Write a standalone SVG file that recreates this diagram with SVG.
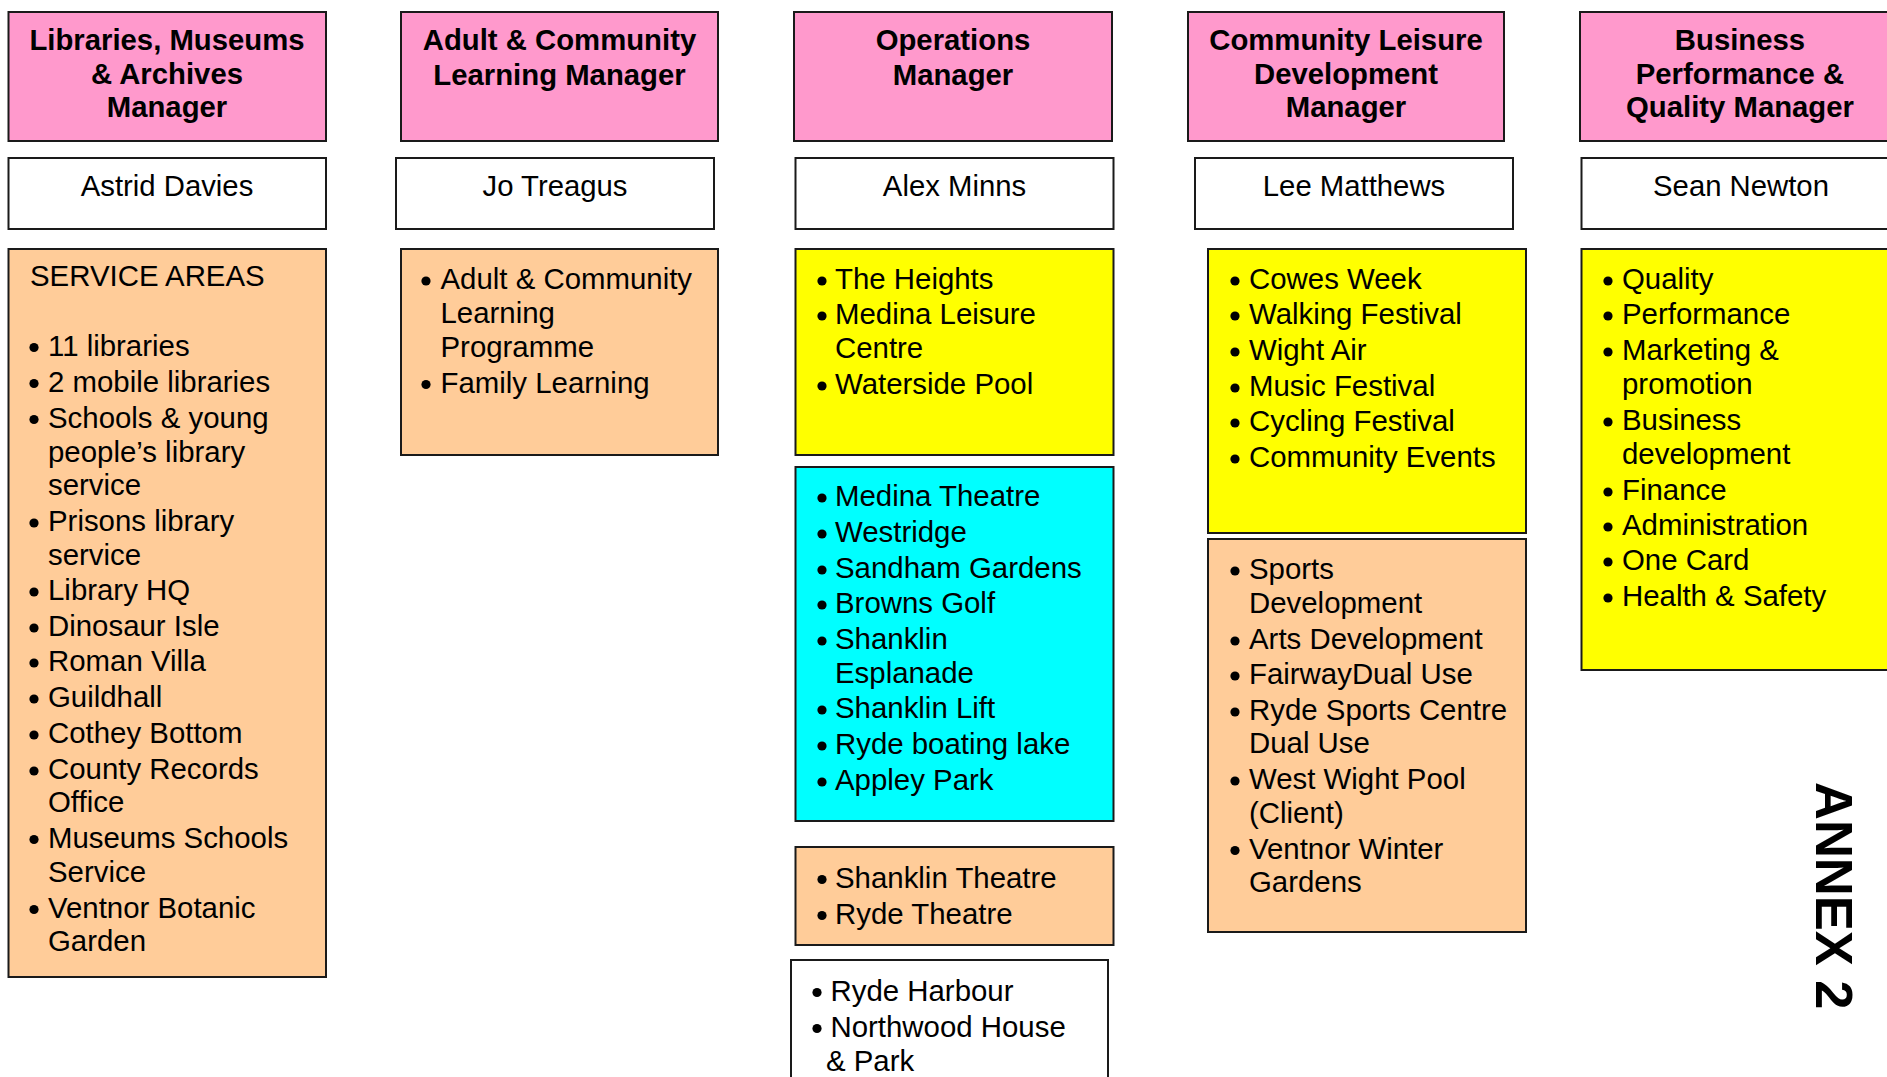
<svg xmlns="http://www.w3.org/2000/svg" width="1887" height="1077" viewBox="0 0 1887 1077">
<defs><circle id="dot" r="4.6" fill="#000"/></defs>
<style>
rect{stroke:#1a1a1a;stroke-width:2}
.pink{fill:#ff99cc}
.white{fill:#ffffff}
.orange{fill:#ffcc99}
.yellow{fill:#ffff00}
.cyan{fill:#00ffff}
text{font-family:"Liberation Sans",Arial,sans-serif;fill:#000}
.h{font-size:29.3px;font-weight:bold;text-anchor:middle}
.n{font-size:29.3px;text-anchor:middle}
.b{font-size:29.4px}
.annex{font-size:52.5px;font-weight:bold}
</style>
<rect width="1887" height="1077" fill="#ffffff" style="stroke:none"/>

<g id="col1">
<g id="lib-manager"><rect class="pink" x="8.5" y="12" width="317.5" height="129"/>
<text class="h" x="167" y="50">Libraries, Museums</text>
<text class="h" x="167" y="83.5">&amp; Archives</text>
<text class="h" x="167" y="117">Manager</text></g>
<g id="lib-name"><rect class="white" x="8.5" y="158" width="317.5" height="71"/>
<text class="n" x="167" y="195.5">Astrid Davies</text></g>
<g id="lib-areas"><rect class="orange" x="8.5" y="249" width="317.5" height="728"/>
<text class="b" x="30" y="285.5">SERVICE AREAS</text>
<use href="#dot" x="34" y="347.5"/><text class="b" x="48" y="355.5">11 libraries</text>
<use href="#dot" x="34" y="383.5"/><text class="b" x="48" y="391.5">2 mobile libraries</text>
<use href="#dot" x="34" y="419.5"/><text class="b" x="48" y="427.5">Schools &amp; young</text>
<text class="b" x="48" y="461.5">people’s library</text>
<text class="b" x="48" y="495">service</text>
<use href="#dot" x="34" y="523"/><text class="b" x="48" y="531">Prisons library</text>
<text class="b" x="48" y="565">service</text>
<use href="#dot" x="34" y="592"/><text class="b" x="48" y="600">Library HQ</text>
<use href="#dot" x="34" y="628"/><text class="b" x="48" y="636">Dinosaur Isle</text>
<use href="#dot" x="34" y="663"/><text class="b" x="48" y="671">Roman Villa</text>
<use href="#dot" x="34" y="699"/><text class="b" x="48" y="707">Guildhall</text>
<use href="#dot" x="34" y="735"/><text class="b" x="48" y="743">Cothey Bottom</text>
<use href="#dot" x="34" y="771"/><text class="b" x="48" y="779">County Records</text>
<text class="b" x="48" y="811.5">Office</text>
<use href="#dot" x="34" y="839.5"/><text class="b" x="48" y="847.5">Museums Schools</text>
<text class="b" x="48" y="881.5">Service</text>
<use href="#dot" x="34" y="909.5"/><text class="b" x="48" y="917.5">Ventnor Botanic</text>
<text class="b" x="48" y="951">Garden</text></g>
</g>

<g id="col2">
<g id="acl-manager"><rect class="pink" x="401" y="12" width="317" height="129"/>
<text class="h" x="559.5" y="50">Adult &amp; Community</text>
<text class="h" x="559.5" y="84.5">Learning Manager</text></g>
<g id="acl-name"><rect class="white" x="396" y="158" width="318" height="71"/>
<text class="n" x="555" y="195.5">Jo Treagus</text></g>
<g id="acl-areas"><rect class="orange" x="401" y="249" width="317" height="206"/>
<use href="#dot" x="426" y="281"/><text class="b" x="440.5" y="289">Adult &amp; Community</text>
<text class="b" x="440.5" y="323">Learning</text>
<text class="b" x="440.5" y="356.5">Programme</text>
<use href="#dot" x="426" y="384.5"/><text class="b" x="440.5" y="392.5">Family Learning</text></g>
</g>

<g id="col3">
<g id="ops-manager"><rect class="pink" x="794" y="12" width="318" height="129"/>
<text class="h" x="953" y="50">Operations</text>
<text class="h" x="953" y="84.5">Manager</text></g>
<g id="ops-name"><rect class="white" x="795.5" y="158" width="318" height="71"/>
<text class="n" x="954.5" y="195.5">Alex Minns</text></g>
<g id="ops-leisure"><rect class="yellow" x="795.5" y="249" width="318" height="206"/>
<use href="#dot" x="822" y="281"/><text class="b" x="835" y="289">The Heights</text>
<use href="#dot" x="822" y="316"/><text class="b" x="835" y="324">Medina Leisure</text>
<text class="b" x="835" y="358">Centre</text>
<use href="#dot" x="822" y="386"/><text class="b" x="835" y="394">Waterside Pool</text></g>
<g id="ops-venues"><rect class="cyan" x="795.5" y="467" width="318" height="354"/>
<use href="#dot" x="822" y="498"/><text class="b" x="835" y="506">Medina Theatre</text>
<use href="#dot" x="822" y="534"/><text class="b" x="835" y="542">Westridge</text>
<use href="#dot" x="822" y="570"/><text class="b" x="835" y="578">Sandham Gardens</text>
<use href="#dot" x="822" y="605"/><text class="b" x="835" y="613">Browns Golf</text>
<use href="#dot" x="822" y="641"/><text class="b" x="835" y="649">Shanklin</text>
<text class="b" x="835" y="683">Esplanade</text>
<use href="#dot" x="822" y="710"/><text class="b" x="835" y="718">Shanklin Lift</text>
<use href="#dot" x="822" y="746"/><text class="b" x="835" y="754">Ryde boating lake</text>
<use href="#dot" x="822" y="782"/><text class="b" x="835" y="790">Appley Park</text></g>
<g id="ops-theatres"><rect class="orange" x="795.5" y="847" width="318" height="98"/>
<use href="#dot" x="822" y="879.5"/><text class="b" x="835" y="887.5">Shanklin Theatre</text>
<use href="#dot" x="822" y="915.5"/><text class="b" x="835" y="923.5">Ryde Theatre</text></g>
<g id="ops-other"><rect class="white" x="791" y="960" width="317" height="140"/>
<use href="#dot" x="817" y="992.5"/><text class="b" x="830.5" y="1000.5">Ryde Harbour</text>
<use href="#dot" x="817" y="1028.5"/><text class="b" x="830.5" y="1036.5">Northwood House</text>
<text class="b" x="826" y="1070.5">&amp; Park</text></g>
</g>

<g id="col4">
<g id="cld-manager"><rect class="pink" x="1188" y="12" width="316" height="129"/>
<text class="h" x="1346" y="50">Community Leisure</text>
<text class="h" x="1346" y="83.5">Development</text>
<text class="h" x="1346" y="117">Manager</text></g>
<g id="cld-name"><rect class="white" x="1195" y="158" width="318" height="71"/>
<text class="n" x="1354" y="195.5">Lee Matthews</text></g>
<g id="cld-events"><rect class="yellow" x="1208" y="249" width="318" height="284"/>
<use href="#dot" x="1235" y="281"/><text class="b" x="1249" y="289">Cowes Week</text>
<use href="#dot" x="1235" y="316"/><text class="b" x="1249" y="324">Walking Festival</text>
<use href="#dot" x="1235" y="352"/><text class="b" x="1249" y="360">Wight Air</text>
<use href="#dot" x="1235" y="388"/><text class="b" x="1249" y="396">Music Festival</text>
<use href="#dot" x="1235" y="423"/><text class="b" x="1249" y="431">Cycling Festival</text>
<use href="#dot" x="1235" y="459"/><text class="b" x="1249" y="467">Community Events</text></g>
<g id="cld-dev"><rect class="orange" x="1208" y="539" width="318" height="393"/>
<use href="#dot" x="1235" y="571"/><text class="b" x="1249" y="579">Sports</text>
<text class="b" x="1249" y="613">Development</text>
<use href="#dot" x="1235" y="641"/><text class="b" x="1249" y="649">Arts Development</text>
<use href="#dot" x="1235" y="676"/><text class="b" x="1249" y="684">FairwayDual Use</text>
<use href="#dot" x="1235" y="712"/><text class="b" x="1249" y="720">Ryde Sports Centre</text>
<text class="b" x="1249" y="753">Dual Use</text>
<use href="#dot" x="1235" y="781"/><text class="b" x="1249" y="789">West Wight Pool</text>
<text class="b" x="1249" y="822.5">(Client)</text>
<use href="#dot" x="1235" y="850.5"/><text class="b" x="1249" y="858.5">Ventnor Winter</text>
<text class="b" x="1249" y="892">Gardens</text></g>
</g>

<g id="col5">
<g id="bpq-manager"><rect class="pink" x="1580" y="12" width="320" height="129"/>
<text class="h" x="1740" y="50">Business</text>
<text class="h" x="1740" y="83.5">Performance &amp;</text>
<text class="h" x="1740" y="117">Quality Manager</text></g>
<g id="bpq-name"><rect class="white" x="1581.5" y="158" width="320" height="71"/>
<text class="n" x="1741" y="195.5">Sean Newton</text></g>
<g id="bpq-areas"><rect class="yellow" x="1581.5" y="249" width="320" height="421"/>
<use href="#dot" x="1608" y="281"/><text class="b" x="1622" y="289">Quality</text>
<use href="#dot" x="1608" y="316"/><text class="b" x="1622" y="324">Performance</text>
<use href="#dot" x="1608" y="352"/><text class="b" x="1622" y="360">Marketing &amp;</text>
<text class="b" x="1622" y="394">promotion</text>
<use href="#dot" x="1608" y="422"/><text class="b" x="1622" y="430">Business</text>
<text class="b" x="1622" y="464">development</text>
<use href="#dot" x="1608" y="492"/><text class="b" x="1622" y="500">Finance</text>
<use href="#dot" x="1608" y="527"/><text class="b" x="1622" y="535">Administration</text>
<use href="#dot" x="1608" y="562"/><text class="b" x="1622" y="570">One Card</text>
<use href="#dot" x="1608" y="598"/><text class="b" x="1622" y="606">Health &amp; Safety</text></g>
</g>

<g id="connectors"></g>

<text class="annex" transform="translate(1816,782) rotate(90)">ANNEX 2</text>
</svg>
